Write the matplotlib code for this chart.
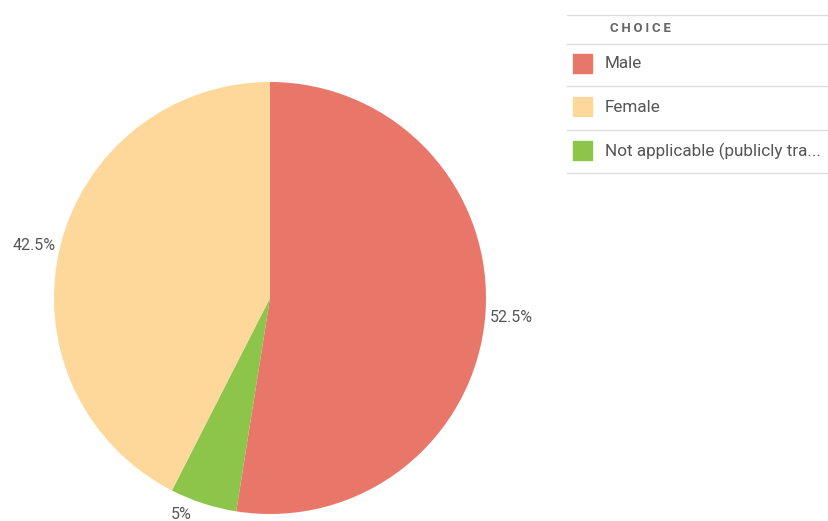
import numpy as np
import matplotlib.pyplot as plt
from matplotlib.patches import Rectangle
from matplotlib.lines import Line2D

# slices, drawn clockwise from 12 o'clock
slice_labels = ["Male", "Not applicable (publicly tra...", "Female"]
slice_values = [52.5, 5, 42.5]
slice_colors = ["#E8776A", "#8DC54B", "#FDD89A"]

legend_title = "CHOICE"
legend_order = ["Male", "Female", "Not applicable (publicly tra..."]

plt.rcParams['font.family'] = ['Roboto', 'DejaVu Sans']

W, H = 829, 521
fig = plt.figure(figsize=(W / 100, H / 100), dpi=100)

# pie axes: centre (270, 298), radius 216 px
cx, cy, r = 270, 298, 216
ax = fig.add_axes([(cx - r) / W, (H - cy - r) / H, 2 * r / W, 2 * r / H])
wedges, _ = ax.pie(slice_values, colors=slice_colors, startangle=90,
                   counterclock=False, radius=1)
ax.set_xlim(-1, 1)
ax.set_ylim(-1, 1)
ax.axis("off")

def fmt(v):
    return f"{v:g}%"

lab_kw = dict(fontsize=11.5, color="#555555", clip_on=False)
for w, v in zip(wedges, slice_values):
    mid = np.deg2rad((w.theta1 + w.theta2) / 2)
    x, y = np.cos(mid), np.sin(mid)
    if x > 0.5:
        ax.text(1.02 * x, y - 0.01, fmt(v), ha="left", va="center", **lab_kw)
    elif x < -0.5:
        ax.text(1.02 * x, y + 0.01, fmt(v), ha="right", va="center", **lab_kw)
    else:
        # small bottom slice: label tucked under the rim
        ax.text(x - 0.1, y - 0.05, fmt(v), ha="center", va="center", **lab_kw)

# legend table on the right
def fy(py):
    return 1 - py / H

x0, x1 = 567 / W, 1.0
for py in [15, 44, 86, 130, 173]:
    fig.add_artist(Line2D([x0, x1], [fy(py), fy(py)], color="#DDDDDD", lw=1))

fig.text(610 / W, fy(28), "\u2009".join(legend_title), fontsize=9.5,
         fontweight="bold", color="#666666", va="center", ha="left")

for name, py in zip(legend_order, [64, 107, 151]):
    col = slice_colors[slice_labels.index(name)]
    fig.add_artist(Rectangle((573 / W, fy(py + 9)), 19 / W, 19 / H,
                             transform=fig.transFigure, color=col))
    fig.text(605 / W, fy(py), name, fontsize=12.3, color="#555555",
             va="center", ha="left")

fig.savefig("out.png", dpi=100)
